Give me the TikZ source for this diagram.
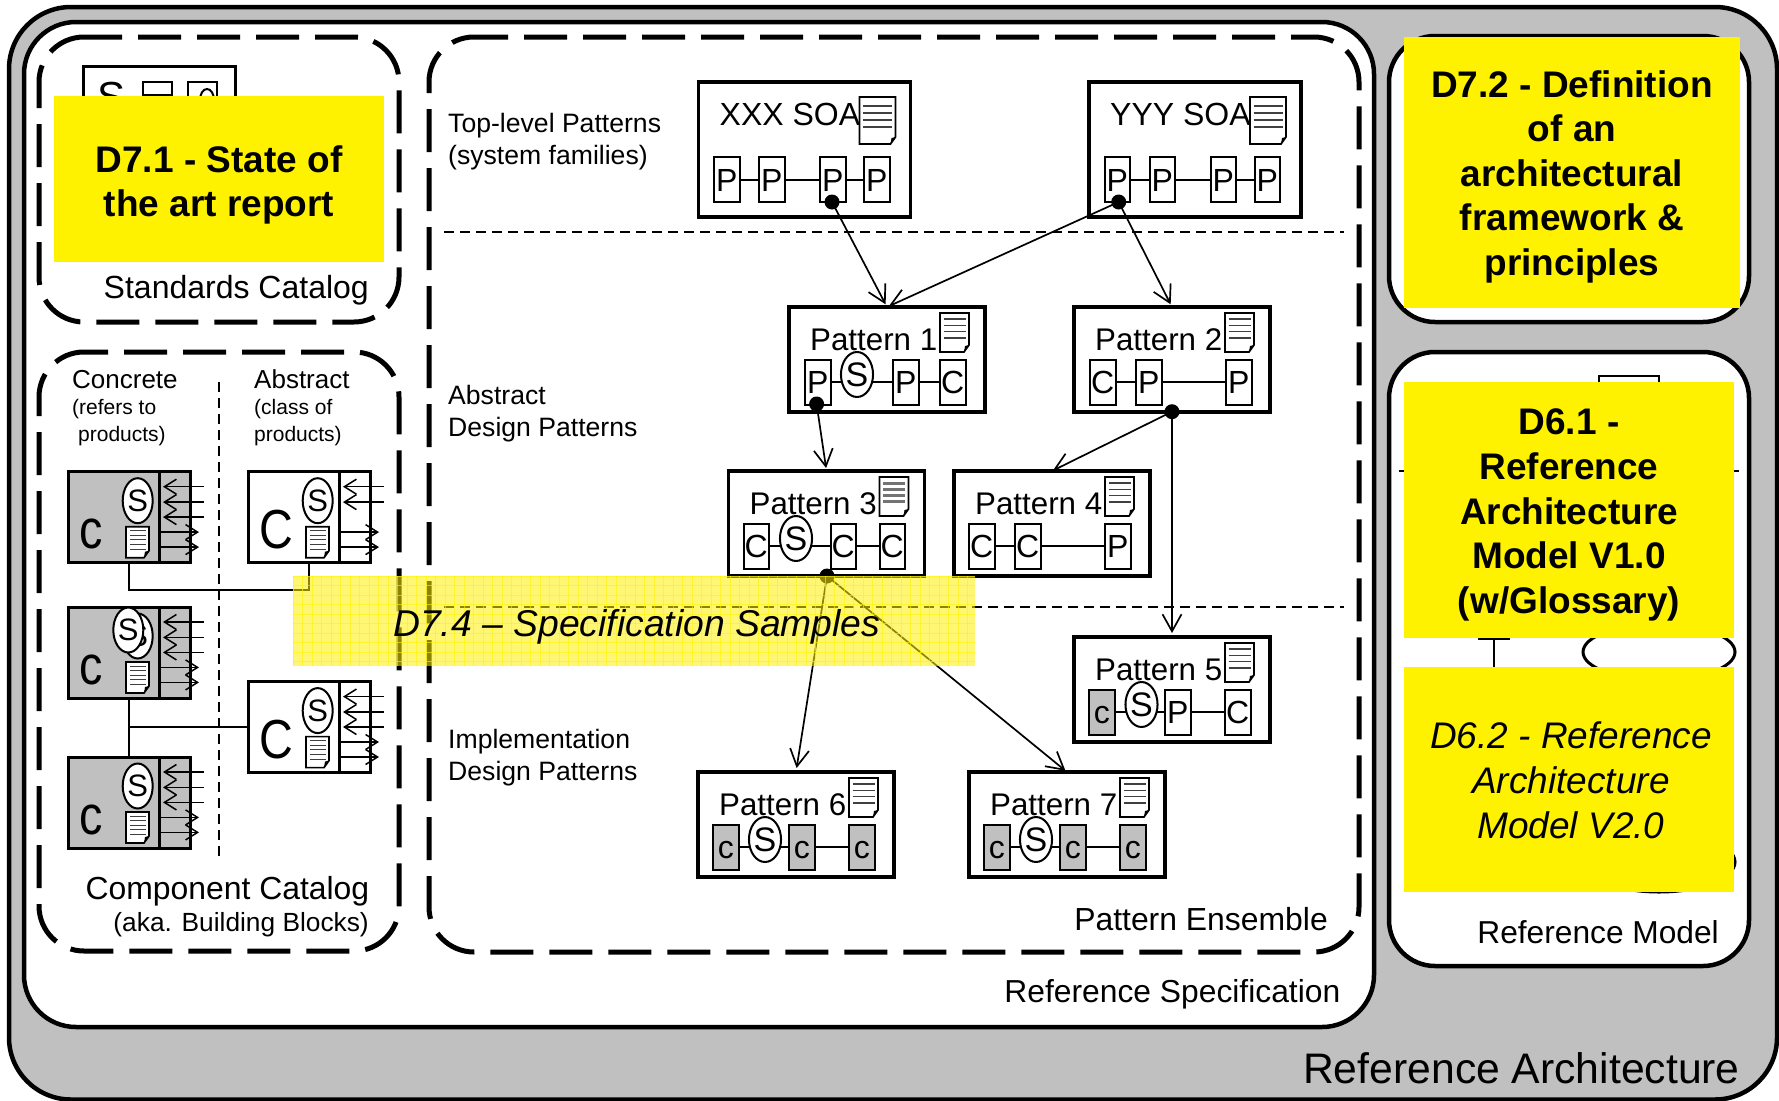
\documentclass[tikz,border=0pt]{standalone}
\usepackage{fontspec}
\usepackage{graphicx}
\setmainfont{Liberation Sans}
\usetikzlibrary{arrows.meta,shapes.geometric,calc}
\definecolor{refgray}{RGB}{192,192,192}
\newcommand\fpx[1]{\fontsize{#1}{#1}\selectfont}
\tikzset{
  x=1pt,y=-1pt,
  >={Straight Barb[length=17pt,width=19pt]},
  solidbox/.style={draw=black,fill=white,line width=4.5pt},
  catdash/.style={draw=black,line width=5pt,dash pattern=on 43pt off 16pt},
  sepline/.style={draw=black,line width=2pt,dash pattern=on 10pt off 6pt},
  patb/.style={draw=black,fill=white,line width=3.5pt,inner sep=0pt,outer sep=0pt},
  subb/.style={draw=black,fill=white,line width=2pt,inner sep=0pt,outer sep=0pt,minimum width=25.5pt,minimum height=45pt,font=\fpx{32},text height=23pt,text depth=0pt},
  sell/.style={ellipse,draw=black,fill=white,line width=2pt,inner sep=0pt,minimum width=31pt,minimum height=45pt,font=\fpx{34}},
  ttl/.style={inner sep=0pt,font=\fpx{31.3}},
  linkl/.style={draw=black,line width=2pt},
  conn/.style={draw=black,line width=1.7pt},
  dotn/.style={circle,fill=black,inner sep=0pt,minimum size=15pt},
  compb/.style={draw=black,line width=3pt,inner sep=0pt,outer sep=0pt},
  compS/.style={ellipse,draw=black,fill=white,line width=2pt,inner sep=0pt,minimum width=30pt,minimum height=45pt,font=\fpx{31}},
  wire/.style={draw=black,line width=2pt},
  tiny/.style={line width=1.5pt,>={Straight Barb[length=12pt,width=15pt]}},
  lab/.style={inner sep=0pt,anchor=base west},
  labr/.style={inner sep=0pt,anchor=base east},
  yel/.style={fill=yellow,inner sep=0pt,outer sep=0pt,anchor=north west},
  ytext/.style={inner sep=0pt,align=center},
}
% doc icon: x1 y1 x2 y2 first-offset step count style
\newcommand\docicon[8]{%
  \draw[fill=white,line width=1.7pt,line join=miter] (#1,#2) -- (#3,#2) -- ($(#3,#4)+(0,-7)$) -- ($(#3,#4)+(-5,0)$) -- (#1,#4) -- cycle;
  \fill[black] ($(#3,#4)+(-5,0)$) -- ($(#3,#4)+(-4,-6)$) -- ($(#3,#4)+(0,-7)$) -- cycle;
  \foreach \ii in {1,...,#7}{
    \draw[#8] ($(#1,#2)+(3.5,#5-#6+\ii*#6)$) -- ($(#3,#2)+(-3.5,#5-#6+\ii*#6)$);
  }%
}
\def\suby{75}
\newcommand\subbx[4]{\node[subb,#4] (#1) at ($(#2,\suby)+(12.75,0)$) {#3};}
\newcommand\sellat[1]{\node[sell] (s) at ($(#1,\suby)+(15.5,-7.5)$) {S};}
\newcommand\lnk[2]{\draw[linkl] (#1.east) -- (#2.west);}
\newcommand\pat[5]{%
  \node[patb,minimum width=196pt,minimum height=105pt,anchor=north west] (#1) at (#2,#3) {};
  \begin{scope}[shift={(#2,#3)},name prefix=#1-]
    \node[ttl,anchor=base west] (t) at (21,43) {#4};
    #5
  \end{scope}%
}
\newcommand\compo[6]{%
  \node[compb,fill=#4,minimum width=122pt,minimum height=91pt,anchor=north west] (#1) at (#2,#3) {};
  \begin{scope}[shift={(#2,#3)},name prefix=#1-]
    \draw[line width=3pt] (91,0) -- (91,91);
    \foreach \yy in {#6}{\draw[tiny,->] (136,\yy) -- (95,\yy);}
    \foreach \yy in {60.4,75.4}{\draw[tiny,->] (91,\yy) -- (131,\yy);}
    \node[compS] (s) at (69.7,29) {S};
    \docicon{58}{55}{81}{86}{4}{4.6}{5}{line width=1pt,draw=black!75}
    \node[lab,font=\fpx{55}] (l) at (11,77) {\scalebox{.85}[1]{#5}};
  \end{scope}%
}
% x1 y1 x2 y2 radius phase
\newcommand\catbox[6]{%
  \draw[catdash,dash phase=#6 pt] ($(#1,#2)+(#5,0)$) -- ($(#3,#2)+(-#5,0)$)
    arc[start angle=-90,end angle=0,radius=#5] -- ($(#3,#4)+(0,-#5)$)
    arc[start angle=0,end angle=90,radius=#5] -- ($(#1,#4)+(#5,0)$)
    arc[start angle=90,end angle=180,radius=#5] -- ($(#1,#2)+(0,#5)$)
    arc[start angle=180,end angle=270,radius=#5];%
}
\begin{document}
\begin{tikzpicture}
\useasboundingbox (0,0) rectangle (1779,1100);
\fill[white] (0,0) rectangle (1779,1100);
% enclosures
\draw[solidbox,fill=refgray,rounded corners=62pt] (9,7) rectangle (1777,1099.5);
\draw[solidbox,rounded corners=52pt] (24,22) rectangle (1374,1027);
\draw[solidbox,rounded corners=46pt] (1389,36) rectangle (1749,322);
\draw[solidbox,rounded corners=46pt] (1389,352) rectangle (1749,966);
\catbox{39}{37}{399}{322}{45}{5}
\catbox{39}{352}{399}{951}{45}{19}
\catbox{429}{37}{1359}{952}{45}{9}
% hidden standards catalog content
\draw[line width=3pt] (83,66) rectangle (235,180);
\node[lab,font=\fpx{42}] (stdS) at (97,111) {S};
\draw[line width=2pt] (143,82) rectangle (172,130);
\draw[line width=2pt] (143,95) -- (172,95);
\draw[line width=2pt] (188,82) rectangle (217,130);
\draw[line width=2pt] (207,100) ellipse (7 and 11);
% hidden reference model content
\draw[line width=2pt] (1599,376) rectangle (1659,420);
\draw[line width=2pt] (1399,471) -- (1404,471);
\draw[line width=2pt] (1734,471) -- (1739,471);
\draw[line width=2.5pt] (1478,638.5) -- (1510,638.5);
\draw[line width=2.5pt] (1494,638) -- (1494,690);
\draw[line width=3pt,fill=white] (1659,652) ellipse (76 and 28);
\draw[line width=3pt,fill=white] (1659,862) ellipse (76 and 30);
% component catalog
\coordinate (dv1) at (219,381.5); \coordinate (dv2) at (219,859);
\draw[sepline] (dv1) -- (dv2);
\node[lab,font=\fpx{26}] (tconc) at (72,388) {Concrete};
\node[lab,font=\fpx{21}] (tconc1) at (72,414) {(refers to};
\node[lab,font=\fpx{21}] (tconc2) at (78,441) {products)};
\node[lab,font=\fpx{26}] (tabs) at (254,388) {Abstract};
\node[lab,font=\fpx{21}] (tabs1) at (254,414) {(class of};
\node[lab,font=\fpx{21}] (tabs2) at (254,441) {products)};
\compo{C1}{68}{471.7}{refgray}{c}{15,30.4,45.4}
\compo{A1}{248}{471.7}{white}{C}{15,30.4}
\compo{C2}{68}{607}{refgray}{c}{15,30.4,45.4}
\node[compS] (C2s) at (128.3,630) {S};
\compo{A2}{248}{681.6}{white}{C}{15,30.4,45.4}
\compo{C3}{68}{757}{refgray}{c}{15,30.4,45.4}
\draw[wire] (C1.south) -- ++(0,27.4) -| (A1.south);
\draw[wire] (C2.south) -- (C3.north);
\draw[wire] (A2.west) -- (A2.west -| C2.south);
\node[labr,font=\fpx{31.9}] (tcc) at (369.5,899) {Component Catalog};
\node[labr,font=\fpx{26.3}] (tbb) at (369,931) {(aka. Building Blocks)};
\node[labr,font=\fpx{32}] (tsc) at (369,298) {Standards Catalog};
\node[labr,font=\fpx{31.9}] (tpe) at (1328,930.5) {Pattern Ensemble};
\node[labr,font=\fpx{31.8}] (trs) at (1340.5,1002.5) {Reference Specification};
\node[labr,font=\fpx{31.7}] (trm) at (1719,943) {Reference Model};
\node[labr,font=\fpx{42.7}] (tra) at (1740,1083.5) {Reference Architecture};
% level labels
\node[lab,font=\fpx{26.6}] (lv1a) at (448,132) {Top-level Patterns};
\node[lab,font=\fpx{26.6}] (lv1b) at (448,164) {(system families)};
\node[lab,font=\fpx{26.6}] (lv2a) at (448,404) {Abstract};
\node[lab,font=\fpx{26.6}] (lv2b) at (448,436) {Design Patterns};
\node[lab,font=\fpx{26.6}] (lv3a) at (448,748) {Implementation};
\node[lab,font=\fpx{26.6}] (lv3b) at (448,780) {Design Patterns};
% separators
\coordinate (sa1) at (444,232); \coordinate (sa2) at (1344,232);
\coordinate (sb1) at (444,607); \coordinate (sb2) at (1344,607);
\draw[sepline] (sa1) -- (sa2);
\draw[sepline] (sb1) -- (sb2);
% top level
\node[patb,minimum width=212pt,minimum height=135pt,anchor=north west] (XXX) at (698.5,82) {};
\begin{scope}[shift={(698.5,82)},name prefix=XXX-]
  \def\suby{97.5}
  \node[ttl,font=\fpx{32},anchor=base west] (t) at (21,43) {XXX SOA};
  \docicon{161}{15}{197}{62}{9}{7}{4}{line width=1.2pt,draw=black!75}
  \subbx{a}{15.5}{P}{}\subbx{b}{60.5}{P}{}\subbx{c}{121.5}{P}{}\subbx{d}{165.5}{P}{}
  \lnk{a}{b}\lnk{b}{c}\lnk{c}{d}
\end{scope}
\node[patb,minimum width=212pt,minimum height=135pt,anchor=north west] (YYY) at (1089,82) {};
\begin{scope}[shift={(1089,82)},name prefix=YYY-]
  \def\suby{97.5}
  \node[ttl,font=\fpx{32},anchor=base west] (t) at (21,43) {YYY SOA};
  \docicon{161}{15}{197}{62}{9}{7}{4}{line width=1.2pt,draw=black!75}
  \subbx{a}{15.5}{P}{}\subbx{b}{60.5}{P}{}\subbx{c}{121.5}{P}{}\subbx{d}{165.5}{P}{}
  \lnk{a}{b}\lnk{b}{c}\lnk{c}{d}
\end{scope}
\newcommand\patdoc{\docicon{151}{6}{180}{45}{6}{6.3}{4}{line width=1.2pt,draw=black!75}}
\pat{P1}{789}{307}{Pattern 1}{\patdoc
  \subbx{a}{16}{P}{}\subbx{b}{104}{P}{}\subbx{c}{151}{C}{}
  \lnk{a}{b}\lnk{b}{c}\sellat{52.5}}
\pat{P2}{1074}{307}{Pattern 2}{\patdoc
  \subbx{a}{16}{C}{}\subbx{b}{62}{P}{}\subbx{c}{152}{P}{}
  \lnk{a}{b}\lnk{b}{c}}
\pat{P3}{728.5}{471}{Pattern 3}{\docicon{151}{6}{180}{45}{6}{6.3}{4}{line width=3pt,draw=black!55}
  \subbx{a}{15}{C}{}\subbx{b}{102}{C}{}\subbx{c}{151}{C}{}
  \lnk{a}{b}\lnk{b}{c}\sellat{52}}
\pat{P4}{954}{471}{Pattern 4}{\patdoc
  \subbx{a}{15}{C}{}\subbx{b}{61}{C}{}\subbx{c}{151}{P}{}
  \lnk{a}{b}\lnk{b}{c}}
\pat{P5}{1074}{637}{Pattern 5}{\patdoc
  \subbx{a}{15}{c}{fill=refgray}\subbx{b}{91}{P}{}\subbx{c}{151}{C}{}
  \lnk{a}{b}\lnk{b}{c}\sellat{52}}
\pat{P6}{698}{772}{Pattern 6}{\patdoc
  \subbx{a}{15}{c}{fill=refgray}\subbx{b}{91}{c}{fill=refgray}\subbx{c}{151}{c}{fill=refgray}
  \lnk{a}{b}\lnk{b}{c}\sellat{51.5}}
\pat{P7}{969}{772}{Pattern 7}{\patdoc
  \subbx{a}{15}{c}{fill=refgray}\subbx{b}{91}{c}{fill=refgray}\subbx{c}{151}{c}{fill=refgray}
  \lnk{a}{b}\lnk{b}{c}\sellat{51.5}}
% connectors
\node[dotn] (dX) at (832,202) {};
\node[dotn] (dY) at (1118.7,202) {};
\node[dotn] (dP1) at (816.6,404) {};
\node[dotn] (dP2) at (1172,411.7) {};
\node[dotn] (dP3) at (827,576) {};
\draw[conn,->,shorten >=3pt] (dX.center) -- (P1.north);
\draw[conn,->,shorten >=2pt] (dY.center) -- (P1.north);
\draw[conn,->,shorten >=3pt] (dY.center) -- (P2.north);
\draw[conn,->,shorten >=3pt] (dP1.center) -- (P3.north);
\draw[conn,->,shorten >=1pt] (dP2.center) -- (P4.north);
\draw[conn,->,shorten >=4pt] (dP2.center) -- (P5.north);
\draw[conn,->,shorten >=4pt] (dP3.center) -- (P6.north);
\draw[conn,->,shorten >=2pt] (dP3.center) -- (P7.north);
% yellow overlays
\node[yel,minimum width=330pt,minimum height=166pt] (y71) at (54,96) {};
\node[ytext,font=\bfseries\fontsize{37}{44.5}\selectfont] (y71t) at (219,185) {D7.1 - State of\\the art report};
\node[yel,minimum width=336pt,minimum height=271pt] (y72) at (1404,37) {};
\node[ytext,font=\bfseries\fontsize{37}{44.5}\selectfont] (y72t) at (1572,176.5) {D7.2 - Definition\\of an\\architectural\\framework \&\\principles};
\node[yel,minimum width=330pt,minimum height=256pt] (y61) at (1404,382) {};
\node[ytext,font=\bfseries\fontsize{37}{44.7}\selectfont] (y61t) at (1569,515) {D6.1 -\\Reference\\Architecture\\Model V1.0\\(w/Glossary)};
\node[yel,minimum width=330pt,minimum height=225pt] (y62) at (1404,667) {};
\node[ytext,font=\itshape\fontsize{37}{45}\selectfont] (y62t) at (1571,780.5) {D6.2 - Reference\\Architecture\\Model V2.0};
% translucent band
\fill[yellow,fill opacity=.55] (293,576) rectangle (975,666);
\foreach \gx in {293,302.5,...,975}{\draw[yellow,line width=.6pt,opacity=.6] (\gx,576) -- (\gx,666);}
\foreach \gy in {576,585.5,...,666}{\draw[yellow,line width=.6pt,opacity=.6] (293,\gy) -- (975,\gy);}
\node[lab,font=\itshape\fpx{37.3}] (y74) at (393,636) {D7.4 – Specification Samples};
\end{tikzpicture}
\end{document}
